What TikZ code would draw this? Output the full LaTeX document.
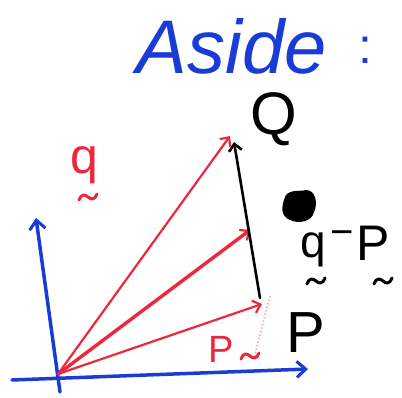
\documentclass[tikz,border=0pt]{standalone}
\usepackage{fontspec}
\setmainfont{Liberation Sans}
\usetikzlibrary{arrows.meta}
\definecolor{penblue}{RGB}{25,60,215}
\definecolor{penred}{RGB}{238,40,60}
\definecolor{penpink}{RGB}{245,170,185}
\tikzset{
  axis/.style={draw=penblue, line width=3.5pt, line cap=round, -{Straight Barb[length=9pt,width=16pt,line width=3pt]}},
  vec/.style={draw=penred, line width=2.2pt, line cap=round, -{Straight Barb[length=7pt,width=13pt,line width=2.2pt]}},
  blacklab/.style={text=black, inner sep=0pt},
  redlab/.style={text=penred, inner sep=0pt},
  utilde/.pic={\draw[line width=3pt, line cap=round, line join=round] (-9,3) .. controls (-7,-3) and (-3,-3) .. (0,0) .. controls (3,3) and (7,3) .. (9,-3);},
}
\begin{document}
\begin{tikzpicture}[x=1pt,y=-1pt]
\useasboundingbox (0,0) rectangle (402,398);
\fill[white] (0,0) rectangle (402,398);
% title
\node[text=penblue, inner sep=0pt, font=\fontsize{76}{76}\selectfont\itshape] (title) at (232,46) {Aside};
\node[text=penblue, inner sep=0pt, font=\fontsize{50}{50}\selectfont] (colon) at (365,50) {:};
% coordinates
\coordinate (O) at (58,374);
\coordinate (ytip) at (36,218);
\coordinate (ybot) at (60,392);
\coordinate (xstart) at (12,380);
\coordinate (xtip) at (308,369);
\coordinate (qtip) at (230,136);
\coordinate (mtip) at (250,230);
\coordinate (ptip) at (262,304);
\coordinate (Ptop) at (260,298);
\coordinate (Qtop) at (234,142);
\coordinate (dotA) at (270,296);
\coordinate (dotB) at (254,358);
% axes
\draw[axis] (ybot) -- (ytip);
\draw[axis] (xstart) -- (xtip);
% red vectors
\draw[vec] (O) -- (qtip);
\draw[vec, line width=3.4pt] (O) -- (mtip);
\draw[vec] (O) -- (ptip);
% black difference vector
\draw[black, line width=2.6pt, line cap=round, -{Straight Barb[length=7pt,width=13pt,line width=2.6pt]}] (Ptop) -- (Qtop);
% faint dotted
\draw[penpink, line width=1.6pt, dotted] (dotA) -- (dotB);
% labels
\node[blacklab, font=\fontsize{60}{60}\selectfont] (Q) at (274,119) {Q};
\node[blacklab, font=\fontsize{58}{58}\selectfont] (P) at (306,333) {P};
\node[redlab, font=\fontsize{38}{38}\selectfont] (Pred) at (221,349) {P};
\pic[color=penred] at (250,356) {utilde};
\node[redlab, font=\fontsize{50}{50}\selectfont] (qred) at (84,165) {q};
\pic[color=penred] at (88,197) {utilde};
\node[blacklab, font=\fontsize{46}{46}\selectfont] (qd) at (313,250) {q};
\pic[color=black] at (316,281) {utilde};
\node[blacklab, font=\fontsize{40}{40}\selectfont] (minus) at (342,238) {−};
\node[blacklab, font=\fontsize{50}{50}\selectfont] (Pd) at (373,243) {P};
\pic[color=black] at (383,281) {utilde};
% scribbled-out blob
\fill[black] (284,200) .. controls (286,188) and (300,192) .. (306,190)
  .. controls (316,190) and (318,204) .. (314,212)
  .. controls (312,222) and (298,224) .. (290,220)
  .. controls (280,216) and (282,206) .. (284,200) -- cycle;
\end{tikzpicture}
\end{document}
